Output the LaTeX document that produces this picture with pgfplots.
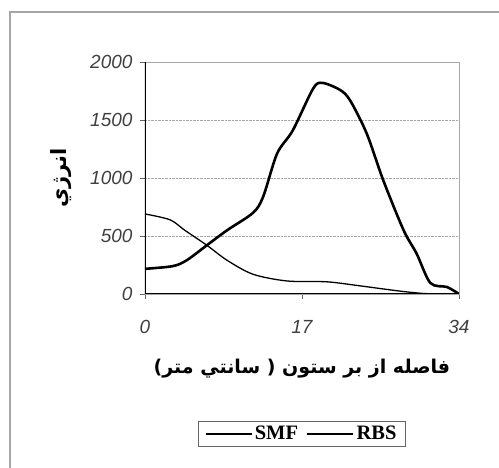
\documentclass[border=0pt]{standalone}
\usepackage{fontspec}
\setmainfont{Liberation Sans}
\newfontfamily\legfont{Liberation Serif}
\newfontfamily\arabicfont[Script=Arabic]{DejaVu Sans}
\TeXXeTstate=1
\usepackage{pgfplots}
\pgfplotsset{compat=1.18}
\begin{document}
\begin{tikzpicture}[x=1pt,y=1pt]
\path[use as bounding box] (0,0) rectangle (499,468);
\draw[gray!70, line width=1.3pt] (10,0) -- (10,456) -- (499,456);
\begin{axis}[
  at={(145pt,174pt)}, anchor=south west,
  width=314pt, height=232pt, scale only axis,
  xmin=0, xmax=34, ymin=0, ymax=2000,
  xtick={0,17,34}, ytick={0,500,1000,1500,2000},
  xtick pos=bottom, ytick pos=left,
  ymajorgrids, grid style={gray!70, densely dotted, line width=0.8pt},
  axis line style={gray!70, line width=0.8pt},
  tick align=outside, major tick length=5pt,
  tick style={gray!80!black, line width=0.8pt},
  /pgf/number format/assume math mode=true,
  /pgf/number format/1000 sep={},
  ticklabel style={font=\fontsize{19}{19}\selectfont\itshape, text=black!75},
  xticklabel style={yshift=-18pt},
  yticklabel style={xshift=-4pt},
  xlabel={\arabicfont\bfseries\fontsize{19}{19}\selectfont\beginR فاصله از بر ستون ( سانتي متر)\endR},
  xlabel style={yshift=-18pt},
  ylabel={\arabicfont\bfseries\fontsize{21}{21}\selectfont\beginR انرژي\endR},
  ylabel style={yshift=12pt},
  legend columns=2,
  legend style={at={(0.5,-0.603)}, anchor=center, draw=gray!80!black, line width=1pt,
    font=\legfont\bfseries\fontsize{20.5}{20.5}\selectfont, inner xsep=7pt, inner ysep=3pt,
    /tikz/every even column/.append style={column sep=6pt}},
  legend image code/.code={\draw[#1] (0pt,0pt) -- (46pt,0pt);},
]
\addplot[black, line width=1.3pt, smooth, tension=0.5] coordinates {
(0,690) (2.7,640) (4.3,550) (6.7,420) (8.9,290) (11.7,170) (15.4,112) (19.7,105) (23.3,70) (27.6,25) (30.5,3) (34,0)};
\addlegendentry{SMF}
\addplot[black, line width=2.6pt, smooth, tension=0.5] coordinates {
(0,217) (3.0,240) (4.5,290) (6.7,420) (8.9,550) (11.7,700) (12.8,840) (14.3,1210) (16.0,1410) (18.2,1770) (19.2,1820) (21.1,1760) (22.2,1670) (24.0,1385) (25.8,980) (28.0,550) (29.4,350) (30.9,95) (32.7,60) (34,0)};
\addlegendentry{RBS}
\draw[black, line width=1.4pt] (rel axis cs:0,1) -- (rel axis cs:0,0) -- (rel axis cs:1,0);
\end{axis}
\end{tikzpicture}
\end{document}
